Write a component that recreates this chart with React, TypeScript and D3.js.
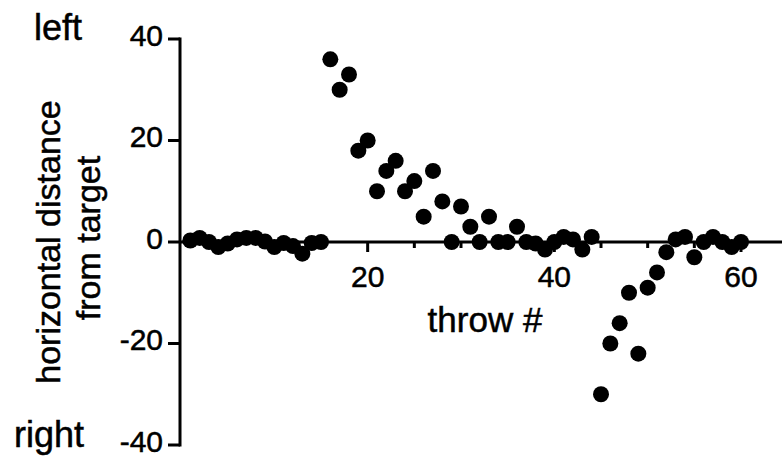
import * as d3 from 'd3'

// horizontal distance from target for throws 1..60 (positive = left)
const distance = [
  0.3, 0.8, 0, -1, -0.3, 0.5, 0.8, 0.8, 0.1, -1,
  -0.2, -0.8, -2.3, -0.2, 0, 36, 30, 33, 18, 20,
  10, 14, 16, 10, 12, 5, 14, 8, 0, 7,
  3, 0, 5, 0, 0, 3, 0, -0.3, -1.5, 0,
  1, 0.5, -1.5, 1, -30, -20, -16, -10, -22, -9,
  -6, -2, 0.5, 1, -3, 0, 1, 0, -1, 0,
]

const yTicks = [-40, -20, 0, 20, 40]
const xMajorTicks = [20, 40, 60]
const xMinorTicks = [5, 10, 15, 25, 30, 35, 45, 50, 55]

const width = 782
const height = 456
const font = 'Liberation Sans, Arial, Helvetica, sans-serif'

export default function App() {
  const x = d3.scaleLinear([0, 60], [181, 741])
  const y = d3.scaleLinear([-40, 40], [445, 39])
  const axisX = 180

  return (
    <svg
      width={width}
      height={height}
      style={{ position: 'absolute', left: 0, top: 0, background: '#fff' }}
      fontFamily={font}
    >
      {/* y axis */}
      <line x1={axisX} x2={axisX} y1={y(40) - 1.5} y2={y(-40) + 1.5} stroke="#000" strokeWidth={3} />
      {yTicks.map((t) => (
        <g key={t}>
          <line x1={axisX - 12} x2={axisX} y1={y(t)} y2={y(t)} stroke="#000" strokeWidth={3} />
          <text
            x={163}
            y={y(t) - 4}
            textAnchor="end"
            dominantBaseline="central"
            fontSize={30}
            stroke="#000"
            strokeWidth={0.5}
          >
            {t}
          </text>
        </g>
      ))}

      {/* x axis */}
      <line x1={axisX} x2={width} y1={y(0)} y2={y(0)} stroke="#000" strokeWidth={3} />
      {xMinorTicks.map((t) => (
        <line key={t} x1={x(t)} x2={x(t)} y1={y(0)} y2={y(0) + 6} stroke="#000" strokeWidth={3} />
      ))}
      {xMajorTicks.map((t) => (
        <g key={t}>
          <line x1={x(t)} x2={x(t)} y1={y(0)} y2={y(0) + 10} stroke="#000" strokeWidth={3} />
          <text x={x(t)} y={287} textAnchor="middle" fontSize={30} stroke="#000" strokeWidth={0.5}>
            {t}
          </text>
        </g>
      ))}

      {/* points */}
      <g fill="#000">
        {distance.map((d, i) => (
          <circle key={i} cx={x(i + 1)} cy={y(d)} r={8} />
        ))}
      </g>

      {/* labels */}
      <g stroke="#000" strokeWidth={0.5}>
        <text x={485} y={332} textAnchor="middle" fontSize={35}>
          throw #
        </text>
        <text x={58} y={40} textAnchor="middle" fontSize={36}>
          left
        </text>
        <text x={49} y={447} textAnchor="middle" fontSize={36}>
          right
        </text>
        <text transform="translate(60,242) rotate(-90)" textAnchor="middle" fontSize={34}>
          horizontal distance
        </text>
        <text transform="translate(100,238) rotate(-90)" textAnchor="middle" fontSize={34}>
          from target
        </text>
      </g>
    </svg>
  )
}
